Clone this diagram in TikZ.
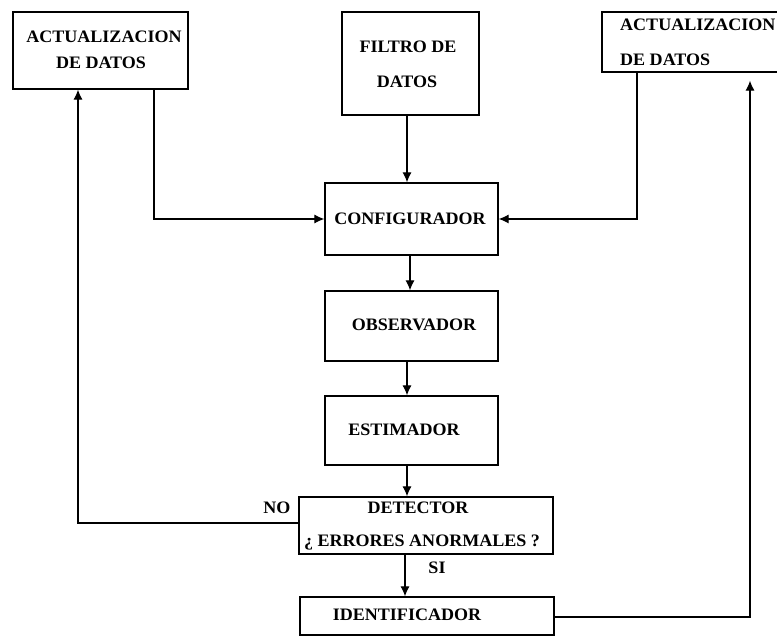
\documentclass[tikz,border=0pt]{standalone}
\usepackage{fontspec}
\setmainfont{Liberation Serif}[FakeStretch=1.03]
\usetikzlibrary{arrows.meta}
\begin{document}
\begin{tikzpicture}[x=1pt,y=-1pt,
  box/.style={draw, line width=1.3pt, inner sep=0pt},
  txt/.style={font=\fontsize{17.5}{20}\selectfont\bfseries, inner sep=0pt},
  arr/.style={line width=1.1pt, -{Latex[length=10pt,width=9pt]}},
]
\useasboundingbox (0,0) rectangle (777,636);
\fill[white] (0,0) rectangle (777,636);
\clip (0,0) rectangle (777,636);

% boxes
\node[box, minimum width=175pt, minimum height=77pt] (A) at (100.5,50.5) {};
\node[box, minimum width=137pt, minimum height=103pt] (F) at (410.5,63.5) {};
\node[box, minimum width=182pt, minimum height=60pt] (R) at (693,42) {};
\node[box, minimum width=173pt, minimum height=72pt] (C) at (411.5,219) {};
\node[box, minimum width=173pt, minimum height=70pt] (O) at (411.5,326) {};
\node[box, minimum width=173pt, minimum height=69pt] (E) at (411.5,430.5) {};
\node[box, minimum width=254pt, minimum height=57pt] (D) at (426,525.5) {};
\node[box, minimum width=254pt, minimum height=38pt] (I) at (427,616) {};

% texts
\node[txt] (a1) at (104,37) {ACTUALIZACION};
\node[txt] (a2) at (101,63) {DE DATOS};
\node[txt] (f1) at (408,47) {FILTRO DE};
\node[txt] (f2) at (407,82) {DATOS};
\node[txt, anchor=west] (r1) at (620,25) {ACTUALIZACION};
\node[txt, anchor=west] (r2) at (620,60) {DE DATOS};
\node[txt] (c1) at (410,219) {CONFIGURADOR};
\node[txt] (o1) at (414,325) {OBSERVADOR};
\node[txt] (e1) at (404,430) {ESTIMADOR};
\node[txt] (d1) at (418,508) {DETECTOR};
\node[txt] (d2) at (422,543) {¿ ERRORES ANORMALES ?};
\node[txt] (i1) at (407,615) {IDENTIFICADOR};
\node[txt] (no) at (277,508) {NO};
\node[txt] (si) at (437,568) {SI};

% connectors
\draw[arr] ([xshift=-3.5pt]F.south) -- ([xshift=-4.5pt]C.north);
\draw[arr] ([xshift=-1.5pt]C.south) -- ([xshift=-1.5pt]O.north);
\draw[arr] ([xshift=-4.5pt]O.south) -- ([xshift=-4.5pt]E.north);
\draw[arr] ([xshift=-4.5pt]E.south) -- ([xshift=-19pt]D.north);
\draw[arr] ([xshift=-21pt]D.south) -- ([xshift=-22pt]I.north);
\draw[arr] ([yshift=2.5pt]D.west) -| ([xshift=-22.5pt]A.south);
\draw[arr] ([xshift=53.5pt]A.south) |- (C.west);
\draw[arr] ([xshift=-56pt]R.south) |- (C.east);
\draw[arr, shorten >=8pt] ([yshift=-1pt]I.east) -| ([xshift=57pt]R.south);
\end{tikzpicture}
\end{document}
